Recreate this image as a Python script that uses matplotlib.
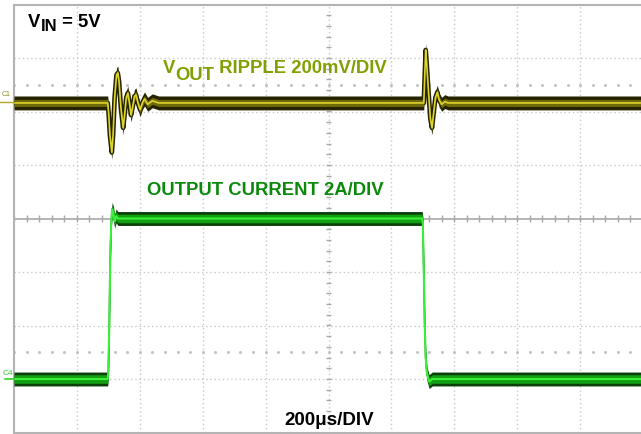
import numpy as np
import matplotlib
matplotlib.use("Agg")
import matplotlib.pyplot as plt

# ---------------- data ----------------
# Channel 1: output-voltage ripple, mV relative to its resting level
ch1_time_us = [0, 298, 301, 305, 311, 315, 320, 326, 330, 334, 340, 347, 352, 357,
               362, 367, 372, 378, 383, 388, 394, 401, 408, 415, 425, 440, 460,
               1300, 1303, 1306, 1309, 1312, 1318, 1324, 1329, 1334, 1340, 1346,
               1352, 1360, 1370, 1380, 2000]
ch1_mv = [0, 0, -40, -120, -185, -120, 20, 105, 112, 80, -20, -93, -40, 20,
          37, 0, -45, -10, 25, 30, 0, -25, 0, 15, -5, 8, 0,
          0, 0, 100, 198, 150, 40, -60, -93, -40, 20, 40,
          10, -5, 5, 0, 0]

# Channel 4: output current, A
ch4_time_us = [0, 298, 300, 303, 306, 309, 312, 316, 320, 325, 330, 340,
               1298, 1300, 1303, 1306, 1309, 1313, 1320, 1330, 2000]
ch4_amp = [0, 0, 0.3, 2.0, 4.5, 5.8, 6.35, 6.2, 5.9, 6.1, 6.0, 6.0,
           6.0, 5.8, 4.0, 2.0, 0.8, 0.2, -0.1, 0.0, 0.0]

ch1_scale_mv = 200      # mV/div
ch4_scale_a = 2         # A/div
time_div_us = 200       # us/div

# ---------------- figure ----------------
W, H = 641, 434
fig = plt.figure(figsize=(W / 100, H / 100), dpi=100)
fig.patch.set_facecolor("white")
renderer = fig.canvas.get_renderer()

def px(x, y):
    return (x / W, 1 - y / H)

ax = fig.add_axes([14 / W, 1.5 / H, 629 / W, 428 / H])
ax.set_xlim(0, 10 * time_div_us)
ax.set_ylim(-4, 4)
ax.set_xticks([]); ax.set_yticks([])
for s in ["top", "left", "bottom", "right"]:
    ax.spines[s].set_color("#b4b4b4")
    ax.spines[s].set_linewidth(1.5)

# graticule
gcol = "#c8c8c8"
for k in range(1, 10):
    ax.axvline(k * time_div_us, color=gcol, lw=1, ls=(0, (1, 2)), zorder=1)
for k in range(-3, 4):
    if k != 0:
        ax.axhline(k, color=gcol, lw=1, ls=(0, (1, 2)), zorder=1)
ax.axhline(0, color="#a8a8a8", lw=1.2, zorder=1)
minor_x = np.arange(0, 10 * time_div_us + 1, time_div_us / 5)
minor_y = np.arange(-4, 4.01, 0.2)
ax.vlines(minor_x, -0.06, 0.06, color="#a8a8a8", lw=1, zorder=1)
ax.hlines(minor_y, 5 * time_div_us - 9, 5 * time_div_us + 9, color="#a8a8a8", lw=1, zorder=1)
for yy in (2.5, -2.5):
    ax.plot(minor_x, np.full_like(minor_x, yy), ls="none", marker="s", ms=1.0,
            color="#c0c0c0", zorder=1)

# ---------------- channel 1 ----------------
t1 = np.array(ch1_time_us, float)
y1 = 2.16 + np.array(ch1_mv, float) / ch1_scale_mv
ax.plot(t1, y1, color="#262400", lw=3.4, zorder=3, solid_joinstyle="round")
ax.fill_between(t1, y1 - 0.13, y1 + 0.13, color="#262400", lw=0, zorder=3)
ax.fill_between(t1, y1 - 0.065, y1 + 0.065, color="#706b08", lw=0, zorder=4)
ax.plot(t1, y1, color="#dcd430", lw=1.2, zorder=5)

# ---------------- channel 4 ----------------
t4 = np.array(ch4_time_us, float)
y4 = -3.0 + np.array(ch4_amp, float) / ch4_scale_a
ax.plot(t4, y4, color="#2f5f2f", lw=1.2, zorder=3)
ax.fill_between(t4, y4 - 0.13, y4 + 0.13, color="#0c3f0c", lw=0, zorder=3)
ax.fill_between(t4, y4 - 0.08, y4 + 0.08, color="#12a012", lw=0, zorder=4)
ax.plot(t4, y4, color="#38f038", lw=1.5, zorder=5)

# channel markers
fig.text(*px(2, 98), "C1", color="#8a8a10", fontsize=5, fontfamily="Liberation Sans",
         va="bottom", ha="left")
fig.add_artist(plt.Line2D([0, 14 / W], [1 - 102 / H] * 2, color="#b0a820", lw=1))
fig.text(*px(3, 377), "C4", color="#30d030", fontsize=6, fontfamily="Liberation Sans",
         va="bottom", ha="left")
fig.add_artist(plt.Line2D([5 / W, 14 / W], [1 - 379 / H] * 2, color="#30d030", lw=1.2))

# ---------------- labels ----------------
bold = dict(fontfamily="Liberation Sans", fontweight="bold")
olive = "#7fa000"
green = "#0a8a0a"
FS = 13.3

def chain(x0, pieces, color):
    """pieces: list of (text, baseline_y_px, fontsize, gap_px)"""
    x = x0
    for txt, yb, fs, gap in pieces:
        x += gap
        t = fig.text(*px(x, yb), txt, color=color, fontsize=fs, va="baseline",
                     ha="left", **bold)
        bb = t.get_window_extent(renderer)
        x = bb.x1

chain(28, [("V", 27, FS, 0), ("IN", 31, 12, 0), (" = 5V", 27, FS, 0)], "black")
chain(163, [("V", 73, FS, 0), ("OUT", 80, FS, 0), (" RIPPLE 200mV/DIV", 73, FS, 0)], olive)

fig.text(*px(147, 195), "OUTPUT CURRENT 2A/DIV", color=green, fontsize=FS,
         va="baseline", **bold)
fig.text(*px(284, 425), "200\u03bcs/DIV", color="black", fontsize=13.5,
         va="baseline", **bold)

fig.savefig("out.png", dpi=100)
